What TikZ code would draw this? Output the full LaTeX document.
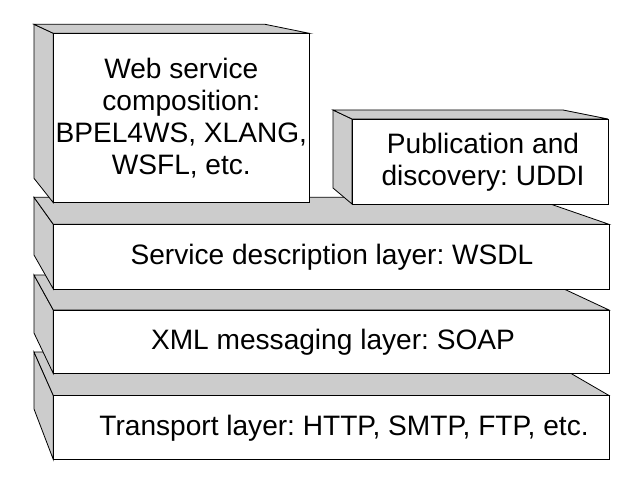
\documentclass[tikz,border=0pt]{standalone}
\usepackage{fontspec}
\setmainfont{Liberation Sans}
\frenchspacing
\newcommand\persbox[8]{%
  \filldraw[sideface] (#1,#2) -- (#5,#6) -- (#5,#8) -- (#1,#4) -- cycle;
  \filldraw[sideface] (#1,#2) -- (#5,#6) -- (#7,#6) -- (#3,#2) -- cycle;
  \filldraw[frontface] (#1,#2) rectangle (#3,#4);
}
\tikzset{
  sideface/.style={fill={rgb,255:red,204;green,204;blue,204}, draw=black, line width=0.8bp, line join=miter},
  frontface/.style={fill=white, draw=black, line width=0.8bp},
  lbl/.style={align=center, font=\fontsize{28.2}{32}\selectfont\frenchspacing, inner sep=0pt}
}
\begin{document}
\begin{tikzpicture}[x=1bp,y=-1bp]
\useasboundingbox (0,0) rectangle (624,478);
% Transport layer
\persbox{53.3}{395.5}{609}{459.5}{34}{352}{534}{409}
\node[lbl] (transport) at (344,428) {Transport layer: HTTP, SMTP, FTP, etc.};
% XML messaging layer
\persbox{53.3}{310}{609}{373.5}{34}{275}{534}{333}
\node[lbl] (xml) at (333,342) {XML messaging layer: SOAP};
% Service description layer
\persbox{53.3}{224.3}{609}{289}{34}{197.3}{531}{255}
\node[lbl] (wsdl) at (332,257) {Service description layer: WSDL};
% Web service composition
\persbox{53.3}{33.3}{309.3}{202.7}{34}{24.3}{265}{178.3}
\node[lbl] (comp) at (181.3,118) {Web service\\composition:\\BPEL4WS, XLANG,\\WSFL, etc.};
% Publication and discovery
\persbox{352}{119}{608}{204}{333}{110}{563}{188}
\node[lbl] (uddi) at (483,162) {Publication and\\discovery: UDDI};
\end{tikzpicture}
\end{document}
